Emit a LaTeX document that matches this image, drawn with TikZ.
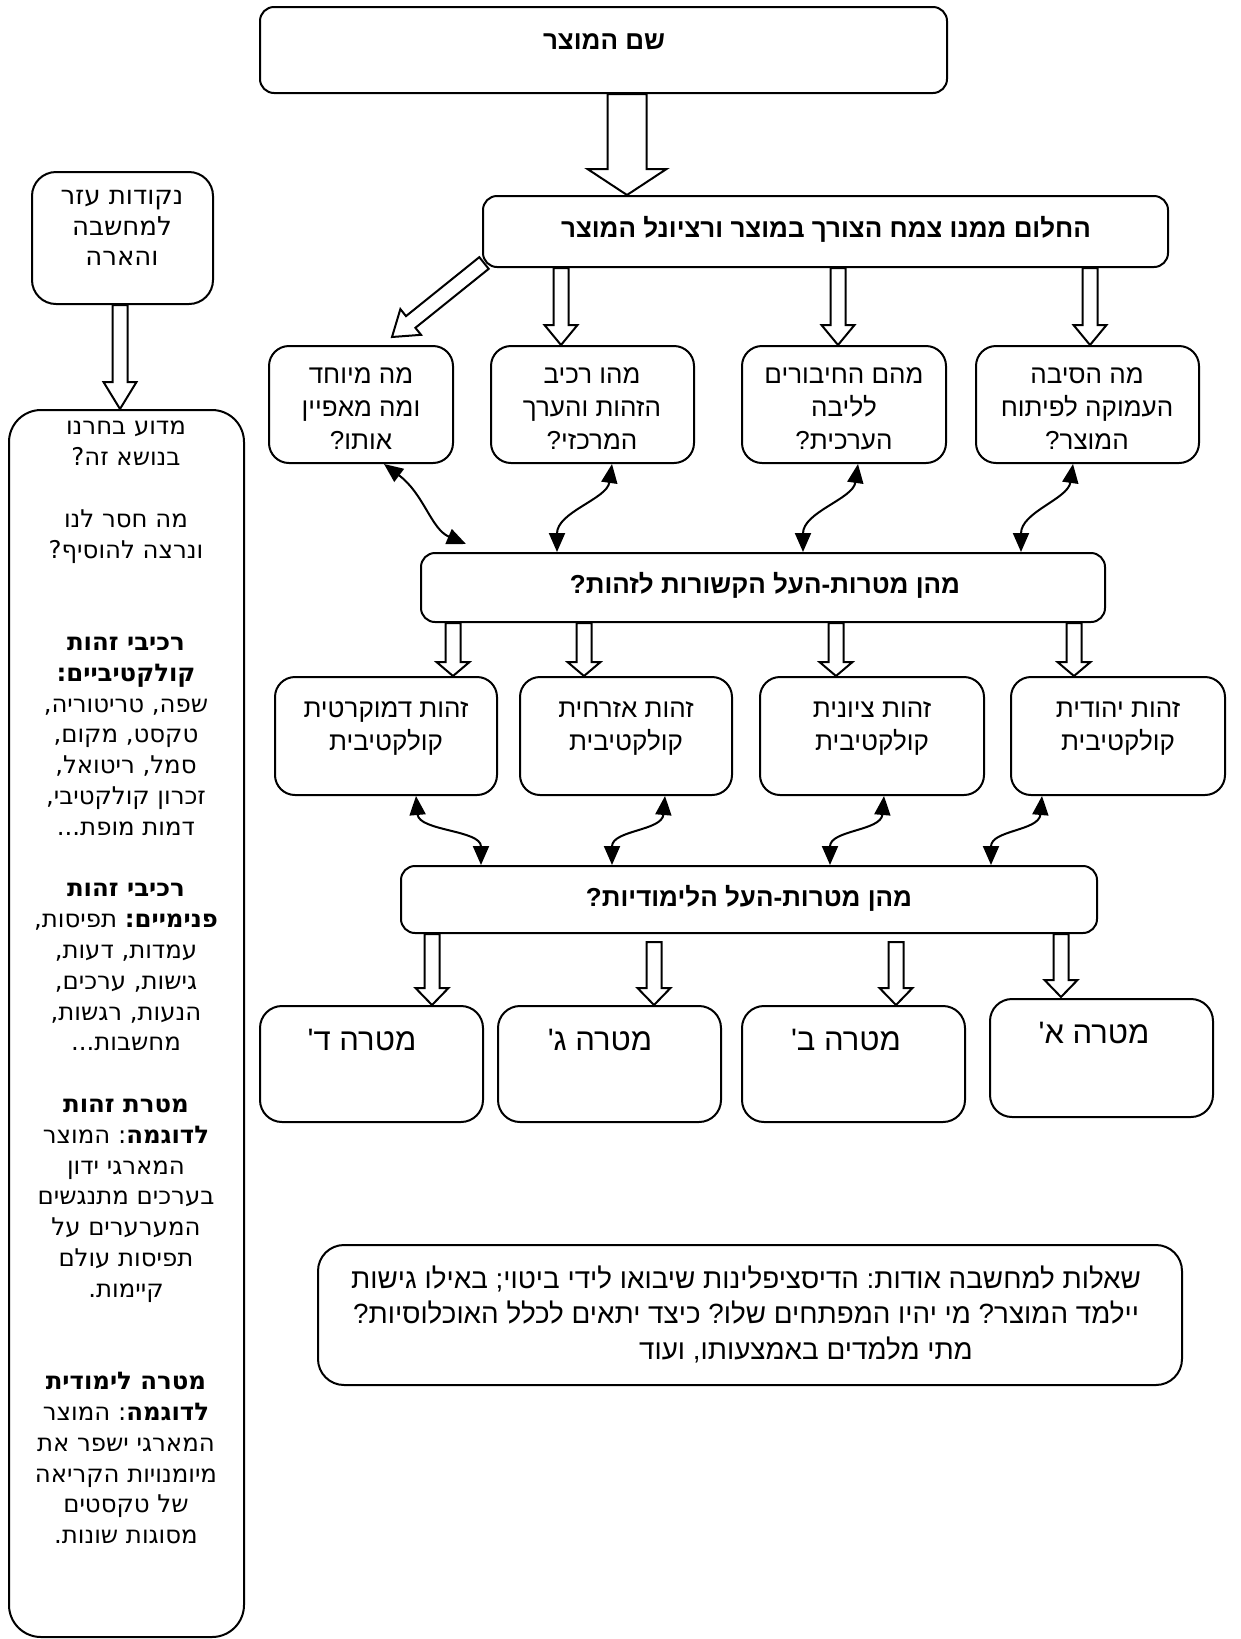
\documentclass[tikz,border=0pt]{standalone}
\usepackage{fontspec}
\setmainfont[Script=Hebrew]{Liberation Sans}
\newfontfamily\dv[Script=Hebrew]{DejaVu Sans}
\usetikzlibrary{calc,arrows.meta,fit}
\TeXXeTstate=1
\frenchspacing
\newcommand\R[1]{\beginR #1\endR}
\newcommand\fatarrow[5]{%
  \coordinate (fah) at ($(#2)!#5!(#1)$);
  \draw[fat] ($(#1)!#3!90:(#2)$) -- ($(fah)!#3!90:(#2)$) -- ($(fah)!#4!90:(#2)$) -- (#2)
    -- ($(fah)!#4!-90:(#2)$) -- ($(fah)!#3!-90:(#2)$) -- ($(#1)!#3!-90:(#2)$) -- cycle;}
\tikzset{
  box/.style={draw, line width=1pt, fill=white, inner sep=0pt, rounded corners=#1},
  box/.default=8pt,
  fat/.style={draw, line width=1pt, fill=white, line join=miter},
  curv/.style={line width=1pt, {Triangle[length=9.5pt,width=8pt]}-{Triangle[length=9.5pt,width=8pt]}},
  txt/.style={align=center, inner sep=0pt, font=\fontsize{13}{16.5}\frenchspacing\selectfont},
  gtxt/.style={align=center, inner sep=0pt, font=\fontsize{15.5}{19}\selectfont},
  dtxt/.style={align=center, inner sep=0pt, font=\dv\fontsize{12.2}{15.4}\frenchspacing\selectfont},
}
\begin{document}
\begin{tikzpicture}[x=0.5pt,y=-0.5pt]
\fill[white] (0,0) rectangle (1241,1639);
\useasboundingbox (0,0) rectangle (1241,1639);

% boxes
\node[box=7pt, fit={(260,7) (947,93)}] (top) {};
\node[box=7pt, fit={(483,196) (1168,267)}] (b2) {};
\node[box=10pt, fit={(269,346) (453,463)}] (q1) {};
\node[box=10pt, fit={(491,346) (694,463)}] (q2) {};
\node[box=10pt, fit={(742,346) (946,463)}] (q3) {};
\node[box=10pt, fit={(976,346) (1199,463)}] (q4) {};
\node[box=7pt, fit={(421,553) (1105,622)}] (b3) {};
\node[box=10pt, fit={(275,677) (497,795)}] (i1) {};
\node[box=10pt, fit={(520,677) (732,795)}] (i2) {};
\node[box=10pt, fit={(760,677) (984,795)}] (i3) {};
\node[box=10pt, fit={(1011,677) (1225,795)}] (i4) {};
\node[box=7pt, fit={(401,866) (1097,933)}] (b4) {};
\node[box=11pt, fit={(260,1006) (483,1122)}] (gd) {};
\node[box=11pt, fit={(498,1006) (721,1122)}] (gc) {};
\node[box=11pt, fit={(742,1006) (965,1122)}] (gb) {};
\node[box=11pt, fit={(990,999) (1213,1117)}] (ga) {};
\node[box=13pt, fit={(318,1245) (1182,1385)}] (bq) {};
\node[box=12pt, fit={(32,172) (213,304)}] (tl) {};
\node[box=16pt, fit={(9,410) (244,1637)}] (side) {};

% texts
\node[txt] (ttop) at (604,42) {\bfseries\R{שם המוצר}};
\node[txt] (tb2) at (826,229) {\bfseries\R{החלום ממנו צמח הצורך במוצר ורציונל המוצר}};
\node[txt] (tq1) at (361,409) {\R{מה מיוחד}\\\R{ומה מאפיין}\\\R{אותו?}};
\node[txt] (tq2) at (592,409) {\R{מהו רכיב}\\\R{הזהות והערך}\\\R{המרכזי?}};
\node[txt] (tq3) at (844,409) {\R{מהם החיבורים}\\\R{לליבה}\\\R{הערכית?}};
\node[txt] (tq4) at (1087,409) {\R{מה הסיבה}\\\R{העמוקה לפיתוח}\\\R{המוצר?}};
\node[txt] (tb3) at (765,585) {\bfseries\R{מהן מטרות-העל הקשורות לזהות?}};
\node[txt] (ti1) at (386,729) {\R{זהות דמוקרטית}\\\R{קולקטיבית}};
\node[txt] (ti2) at (626,729) {\R{זהות אזרחית}\\\R{קולקטיבית}};
\node[txt] (ti3) at (872,729) {\R{זהות ציונית}\\\R{קולקטיבית}};
\node[txt] (ti4) at (1118,729) {\R{זהות יהודית}\\\R{קולקטיבית}};
\node[txt] (tb4) at (749,898) {\bfseries\R{מהן מטרות-העל הלימודיות?}};
\node[gtxt] (tgd) at (362,1040) {\R{מטרה ד\textquotesingle}};
\node[gtxt] (tgc) at (600,1040) {\R{מטרה ג\textquotesingle}};
\node[gtxt] (tgb) at (846,1040) {\R{מטרה ב\textquotesingle}};
\node[gtxt] (tga) at (1094,1033) {\R{מטרה א\textquotesingle}};
\node[txt, font=\fontsize{13.9}{17.75}\selectfont] (tbq) at (746,1314)
  {\R{שאלות למחשבה אודות: הדיסציפלינות שיבואו לידי ביטוי; באילו גישות}\\
   \R{יילמד המוצר? מי יהיו המפתחים שלו? כיצד יתאים לכלל האוכלוסיות?}\\
   \hspace*{60pt}\R{מתי מלמדים באמצעותו, ועוד}};
\node[dtxt, font=\dv\fontsize{13}{15.4}\selectfont] (ttl) at (122,228) {\R{נקודות עזר}\\\R{למחשבה}\\\R{והארה}};
\node[dtxt, anchor=north] (tside) at (126,421) {%
\R{מדוע בחרנו}\\
\R{בנושא זה?}\\[15.4pt]
\R{מה חסר לנו}\\
\R{ונרצה להוסיף?}\\[30.8pt]
\R{\textbf{רכיבי זהות}}\\
\R{\textbf{קולקטיביים:}}\\
\R{שפה, טריטוריה,}\\
\R{טקסט, מקום,}\\
\R{סמל, ריטואל,}\\
\R{זכרון קולקטיבי,}\\
\R{דמות מופת...}\\[15.4pt]
\R{\textbf{רכיבי זהות}}\\
\R{\textbf{פנימיים:} תפיסות,}\\
\R{עמדות, דעות,}\\
\R{גישות, ערכים,}\\
\R{הנעות, רגשות,}\\
\R{מחשבות...}\\[15.4pt]
\R{\textbf{מטרת זהות}}\\
\R{\textbf{לדוגמה}: המוצר}\\
\R{המארגי ידון}\\
\R{בערכים מתנגשים}\\
\R{המערערים על}\\
\R{תפיסות עולם}\\
\R{קיימות.}\\[30.8pt]
\R{\textbf{מטרה לימודית}}\\
\R{\textbf{לדוגמה}: המוצר}\\
\R{המארגי ישפר את}\\
\R{מיומנויות הקריאה}\\
\R{של טקסטים}\\
\R{מסוגות שונות.}};

% fat arrows
\coordinate (s0) at (top.south -| 627,0); \coordinate (e0) at (b2.north -| 627,0);
\fatarrow{s0}{e0}{9.75pt}{19.75pt}{13pt}
\coordinate (s1) at ($(b2.south west)+(2,-5)$); \coordinate (e1) at ($(q1.north)+(31,-8)$);
\fatarrow{s1}{e1}{3.75pt}{8.25pt}{12pt}
\coordinate (s2) at (b2.south -| 561,0); \coordinate (e2) at (q2.north -| 561,0);
\fatarrow{s2}{e2}{3.75pt}{8.25pt}{10pt}
\coordinate (s3) at (b2.south -| 838,0); \coordinate (e3) at (q3.north -| 838,0);
\fatarrow{s3}{e3}{3.75pt}{8.25pt}{10pt}
\coordinate (s4) at (b2.south -| 1090,0); \coordinate (e4) at (q4.north -| 1090,0);
\fatarrow{s4}{e4}{3.75pt}{8.25pt}{10pt}
\coordinate (s5) at (b3.south -| 453,0); \coordinate (e5) at (i1.north -| 453,0);
\fatarrow{s5}{e5}{3.75pt}{8.25pt}{7pt}
\coordinate (s6) at (b3.south -| 584,0); \coordinate (e6) at (i2.north -| 584,0);
\fatarrow{s6}{e6}{3.75pt}{8.25pt}{7pt}
\coordinate (s7) at (b3.south -| 836,0); \coordinate (e7) at (i3.north -| 836,0);
\fatarrow{s7}{e7}{3.75pt}{8.25pt}{7pt}
\coordinate (s8) at (b3.south -| 1074,0); \coordinate (e8) at (i4.north -| 1074,0);
\fatarrow{s8}{e8}{3.75pt}{8.25pt}{7pt}
\coordinate (s9) at (b4.south -| 432,0); \coordinate (e9) at (gd.north -| 432,0);
\fatarrow{s9}{e9}{3.75pt}{8.25pt}{8.5pt}
\coordinate (s10) at ($(b4.south -| 654,0)+(0,8)$); \coordinate (e10) at (gc.north -| 654,0);
\fatarrow{s10}{e10}{3.75pt}{8.25pt}{8.5pt}
\coordinate (s11) at ($(b4.south -| 896,0)+(0,8)$); \coordinate (e11) at (gb.north -| 896,0);
\fatarrow{s11}{e11}{3.75pt}{8.25pt}{8.5pt}
\coordinate (s12) at (b4.south -| 1061,0); \coordinate (e12) at ($(ga.north -| 1061,0)+(0,-1)$);
\fatarrow{s12}{e12}{3.75pt}{8.25pt}{8.5pt}
\coordinate (s13) at (tl.south -| 120,0); \coordinate (e13) at (side.north -| 120,0);
\fatarrow{s13}{e13}{3.75pt}{8.25pt}{13.5pt}

% curved double arrows
\draw[curv] (q1.south -| 384,0) .. controls +(40,30) and +(-35,-15) .. ($(b3.north -| 466,0)+(0,-8)$);
\draw[curv] (q2.south -| 612,0) .. controls +(-5,35) and +(0,-40) .. (b3.north -| 557,0);
\draw[curv] (q3.south -| 858,0) .. controls +(-5,35) and +(0,-40) .. (b3.north -| 803,0);
\draw[curv] (q4.south -| 1073,0) .. controls +(-5,35) and +(0,-40) .. (b3.north -| 1021,0);
\draw[curv] (i1.south -| 416,0) .. controls +(3,35) and +(0,-35) .. (b4.north -| 481,0);
\draw[curv] (i2.south -| 665,0) .. controls +(-3,35) and +(0,-35) .. (b4.north -| 612,0);
\draw[curv] (i3.south -| 884,0) .. controls +(-3,35) and +(0,-35) .. (b4.north -| 830,0);
\draw[curv] (i4.south -| 1042,0) .. controls +(-3,35) and +(0,-35) .. (b4.north -| 991,0);
\end{tikzpicture}
\end{document}
